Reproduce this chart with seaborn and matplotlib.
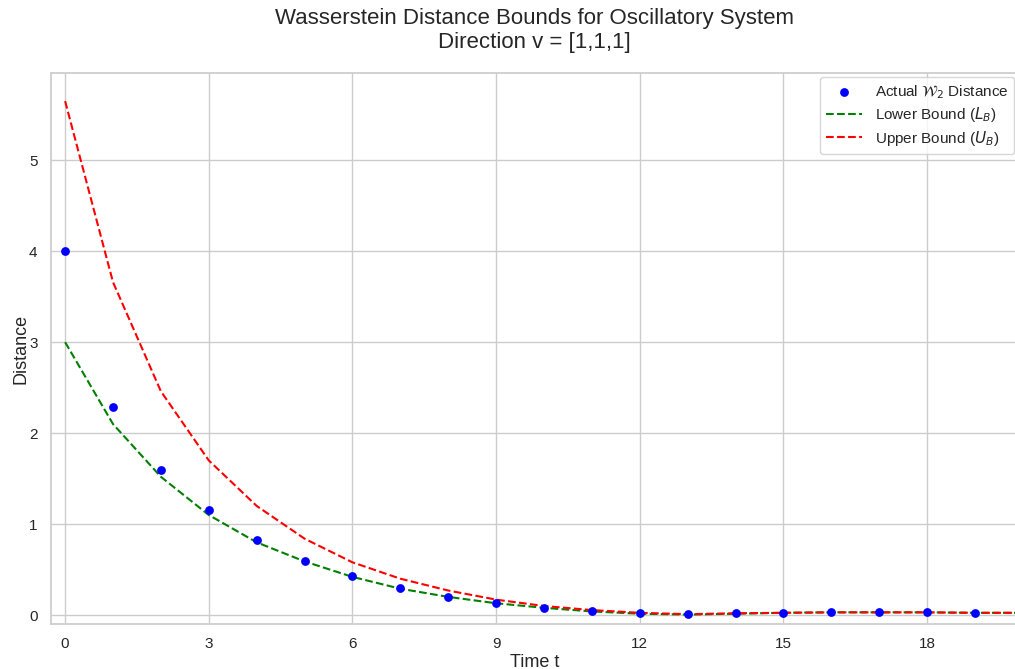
import numpy as np
import pandas as pd
import matplotlib
matplotlib.use("Agg")
import matplotlib.pyplot as plt
import seaborn as sns

# ==============================
# DATA
# ==============================
t_actual = [0, 1, 2, 3, 4, 5, 6, 7, 8, 9, 10, 11, 12, 13, 14, 15, 16, 17, 18, 19]
w2_actual = [4.0, 2.29, 1.60, 1.15, 0.83, 0.60, 0.43, 0.30, 0.20, 0.13,
             0.08, 0.05, 0.02, 0.01, 0.02, 0.025, 0.03, 0.03, 0.03, 0.025]

t_bound = [0, 1, 2, 3, 4, 5, 6, 7, 8, 9, 10, 11, 12, 13, 14, 15, 16, 17, 18, 19, 20]
lower_bound = [3.0, 2.10, 1.52, 1.10, 0.80, 0.59, 0.42, 0.29, 0.20, 0.13,
               0.08, 0.04, 0.015, 0.005, 0.015, 0.025, 0.03, 0.03, 0.03, 0.025, 0.025]
upper_bound = [5.65, 3.66, 2.46, 1.70, 1.20, 0.84, 0.58, 0.40, 0.27, 0.17,
               0.10, 0.055, 0.025, 0.01, 0.02, 0.025, 0.03, 0.03, 0.03, 0.025, 0.025]

actual_df = pd.DataFrame({"t": t_actual, "w2": w2_actual})
bound_df = pd.DataFrame({"t": t_bound, "lower": lower_bound, "upper": upper_bound})

# ==============================
# STYLE
# ==============================
sns.set_theme(style="whitegrid")
plt.rcParams["font.family"] = ["Liberation Sans", "DejaVu Sans"]

fig, ax = plt.subplots(figsize=(10.15, 6.69), dpi=100)
fig.subplots_adjust(left=0.050, right=1.003, bottom=0.067, top=0.891)

sns.scatterplot(data=actual_df, x="t", y="w2", ax=ax, color="blue", s=40,
                edgecolor="blue", linewidth=0, label=r"Actual $\mathcal{W}_2$ Distance",
                zorder=3)
sns.lineplot(data=bound_df, x="t", y="lower", ax=ax, color="green",
             linestyle="--", linewidth=1.5, label=r"Lower Bound ($L_B$)")
sns.lineplot(data=bound_df, x="t", y="upper", ax=ax, color="red",
             linestyle="--", linewidth=1.5, label=r"Upper Bound ($U_B$)")

ax.set_xlim(-0.3, 19.9)
ax.set_ylim(-0.1, 5.96)
ax.set_xticks([0, 3, 6, 9, 12, 15, 18])

ax.set_title("Wasserstein Distance Bounds for Oscillatory System\nDirection v = [1,1,1]",
             fontsize=16, pad=18)
ax.set_xlabel("Time t", fontsize=13, labelpad=2)
ax.set_ylabel("Distance", fontsize=13, labelpad=0)
ax.tick_params(labelsize=11)

ax.legend(loc="upper right", fontsize=11, frameon=True, labelspacing=0.3,
          handlelength=2.4, borderaxespad=0.25)

plt.savefig("out.png", dpi=100)
